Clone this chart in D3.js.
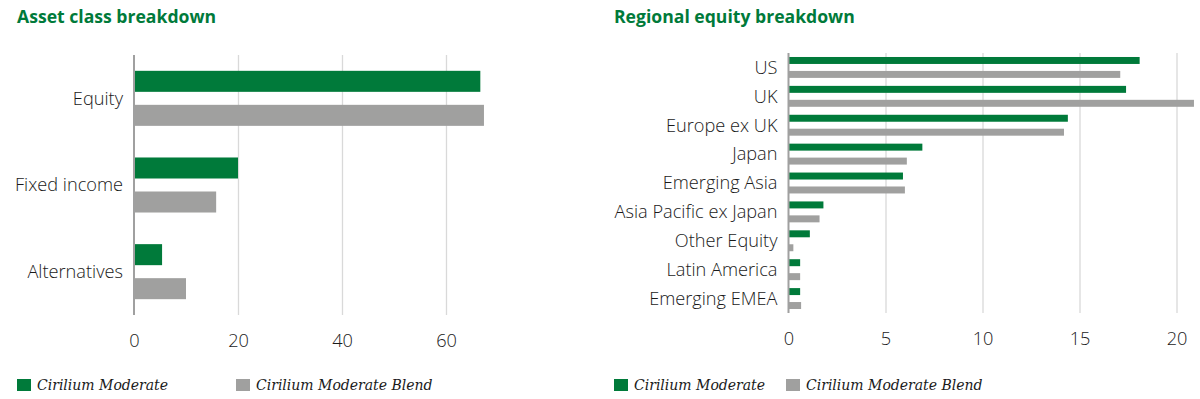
<!DOCTYPE html>
<html>
<head>
<meta charset="utf-8">
<script src="https://cdn.jsdelivr.net/npm/d3@7"></script>
<style>
	body { margin: 0; background: #fff; }
	svg text { font-family: "Open Sans", sans-serif; }
	.title { font-weight: 700; font-size: 17.6px; fill: #007a3a; }
	.cat-label { font-size: 18.2px; font-weight: 300; fill: #1a1a1a; }
	.axis text { font-size: 18.2px; font-weight: 300; fill: #1a1a1a; }
	.legend-text { font-family: "DejaVu Serif", serif !important; font-style: italic; font-size: 14px; fill: #1a1a1a; }
</style>
</head>
<body>
<svg id="chart" width="1200" height="399"></svg>
<script>
// series
const seriesNames = ["Cirilium Moderate", "Cirilium Moderate Blend"];
const seriesColors = ["#007a3a", "#a0a09f"];

// asset class breakdown
const assetCategories = ["Equity", "Fixed income", "Alternatives"];
const assetModerate = [66.6, 20.0, 5.4];
const assetBlend = [67.3, 15.8, 10.0];
const assetTicks = [0, 20, 40, 60];

// regional equity breakdown
const regionCategories = ["US", "UK", "Europe ex UK", "Japan", "Emerging Asia",
	"Asia Pacific ex Japan", "Other Equity", "Latin America", "Emerging EMEA"];
const regionModerate = [18.1, 17.4, 14.4, 6.9, 5.9, 1.8, 1.1, 0.6, 0.6];
const regionBlend = [17.1, 20.9, 14.2, 6.1, 6.0, 1.6, 0.25, 0.6, 0.65];
const regionTicks = [0, 5, 10, 15, 20];

let svg = d3.select("#chart");

function drawBars(opts) {
	let g = svg.append("g");

	g.append("text")
		.attr("class", "title")
		.attr("x", opts.titleX)
		.attr("y", 23)
		.text(opts.title);

	let x = d3.scaleLinear()
		.domain([0, opts.xMax])
		.range([opts.left, opts.right]);

	let y = d3.scaleBand()
		.domain(opts.categories)
		.range([opts.top, opts.bottom])
		.paddingInner(opts.pad)
		.paddingOuter(opts.pad / 2);

	let ySub = d3.scaleBand()
		.domain([0, 1])
		.range([0, y.bandwidth()])
		.paddingInner(opts.subPad);

	// gridlines
	g.append("g")
		.selectAll("line")
		.data(opts.ticks.filter(t => t > 0))
		.enter()
		.append("line")
		.attr("x1", d => x(d) + 0.5)
		.attr("x2", d => x(d) + 0.5)
		.attr("y1", opts.top)
		.attr("y2", opts.bottom)
		.attr("stroke", "#d9d9d9")
		.attr("stroke-width", 1.3);

	let rows = opts.categories.map((c, i) => ({ cat: c, vals: [opts.a[i], opts.b[i]] }));

	let groups = g.selectAll(".row")
		.data(rows)
		.enter()
		.append("g")
		.attr("class", "row")
		.attr("transform", d => "translate(0," + y(d.cat) + ")");

	groups.selectAll("rect")
		.data(d => d.vals)
		.enter()
		.append("rect")
		.attr("x", x(0))
		.attr("y", (d, i) => ySub(i))
		.attr("width", d => x(d) - x(0))
		.attr("height", ySub.bandwidth())
		.attr("fill", (d, i) => seriesColors[i]);

	// category labels
	g.append("g")
		.selectAll("text")
		.data(opts.categories)
		.enter()
		.append("text")
		.attr("class", "cat-label")
		.attr("x", x(0) - 11)
		.attr("y", d => y(d) + y.bandwidth() / 2)
		.attr("dy", "0.35em")
		.attr("text-anchor", "end")
		.text(d => d);

	// y axis line
	g.append("line")
		.attr("x1", x(0))
		.attr("x2", x(0))
		.attr("y1", opts.top)
		.attr("y2", opts.bottom)
		.attr("stroke", "#a0a0a0")
		.attr("stroke-width", 2);

	let xAxis = d3.axisBottom(x)
		.tickValues(opts.ticks)
		.tickSize(0)
		.tickPadding(19);

	g.append("g")
		.attr("class", "axis")
		.attr("transform", "translate(0," + opts.bottom + ")")
		.call(xAxis)
		.call(a => a.select(".domain").remove())
		.selectAll("text")
		.attr("font-family", null)
		.attr("font-size", null);

	// legend
	let legend = g.selectAll(".legend")
		.data(seriesNames)
		.enter()
		.append("g")
		.attr("class", "legend")
		.attr("transform", (d, i) => "translate(" + opts.legendX[i] + ",379)");

	legend.append("rect")
		.attr("width", 14)
		.attr("height", 12)
		.attr("fill", (d, i) => seriesColors[i]);

	legend.append("text")
		.attr("class", "legend-text")
		.attr("x", 20)
		.attr("y", 11)
		.text(d => d);
}

drawBars({
	title: "Asset class breakdown",
	titleX: 17,
	categories: assetCategories,
	a: assetModerate,
	b: assetBlend,
	ticks: assetTicks,
	xMax: 60,
	left: 134,
	right: 446,
	top: 55,
	bottom: 315,
	pad: 0.365,
	subPad: 0.382,
	legendX: [17, 236]
});

drawBars({
	title: "Regional equity breakdown",
	titleX: 614,
	categories: regionCategories,
	a: regionModerate,
	b: regionBlend,
	ticks: regionTicks,
	xMax: 20,
	left: 788.5,
	right: 1176.5,
	top: 53,
	bottom: 313,
	pad: 0.276,
	subPad: 0.5,
	legendX: [614, 786]
});
</script>
</body>
</html>
